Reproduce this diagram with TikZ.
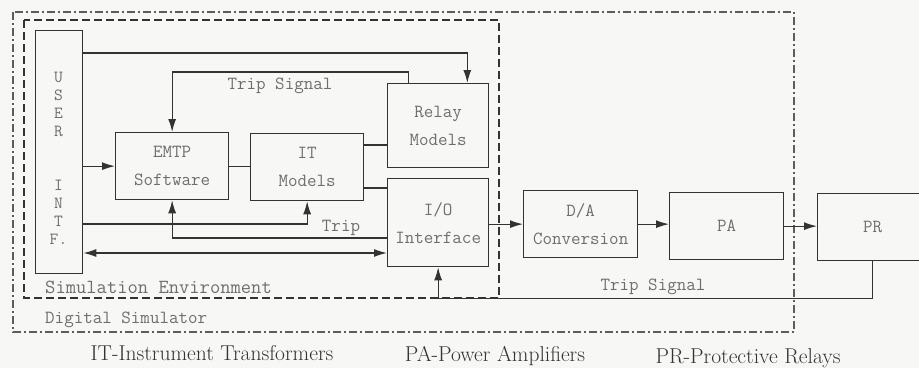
\documentclass[tikz,border=0pt]{standalone}
\usetikzlibrary{arrows.meta,calc}
\definecolor{ln}{HTML}{333333}
\definecolor{tx}{HTML}{6E6E6E}
\definecolor{bg}{HTML}{F7F7F5}
\tikzset{
  box/.style={draw=ln, line width=1.3pt, anchor=north west, inner sep=0pt, align=center,
    text=tx, font=\ttfamily\fontsize{18.5}{28}\selectfont},
  wire/.style={draw=ln, line width=1.3pt},
  tipshape/.style={},
  arr/.style={wire, -{Latex[length=13pt,width=8pt]}},
  arrb/.style={wire, {Latex[length=13pt,width=8pt]}-{Latex[length=13pt,width=8pt]}},
  lbl/.style={text=tx, inner sep=0pt, font=\ttfamily\fontsize{18.5}{20}\selectfont},
  captxt/.style={text=black!80, inner sep=0pt, font=\fontsize{21.5}{24}\selectfont},
  envframe/.style={draw=ln, line width=1.2pt, dash pattern=on 8pt off 4pt},
  simframe/.style={draw=ln!80, line width=1.1pt, dash pattern=on 8pt off 3pt on 2pt off 3pt},
}
\begin{document}
\begin{tikzpicture}[x=1pt,y=-1pt]
\useasboundingbox (0,0) rectangle (919,368);
\fill[bg] (0,0) rectangle (919,368);

% frames
\draw[simframe] (13,12) rectangle (794,332);
\draw[envframe] (24,20) rectangle (499,298);
\node[lbl, anchor=west, font=\ttfamily\fontsize{20}{22}\selectfont] (envlbl) at (45,287) {Simulation Environment};
\node[lbl, anchor=west] (simlbl) at (45,320) {Digital Simulator};

% boxes
\node[box, minimum width=47pt, minimum height=243pt] (user) at (35,30) {};
\node[lbl, align=center, font=\ttfamily\fontsize{17}{18}\selectfont] (usertxt) at (58.5,158.5)
  {U\\S\\E\\R\\[36pt]I\\N\\T\\F.};
\node[box, minimum width=113pt, minimum height=67pt] (emtp) at (115,132) {EMTP\\Software};
\node[box, minimum width=113pt, minimum height=67pt] (itm) at (250,133) {IT\\Models};
\node[box, minimum width=101pt, minimum height=84pt] (relay) at (387,83) {Relay\\Models};
\node[box, minimum width=101pt, minimum height=88pt] (io) at (387,178) {I/O\\Interface};
\node[box, minimum width=114pt, minimum height=67pt] (da) at (523,190) {D/A\\Conversion};
\node[box, minimum width=114pt, minimum height=67pt] (pa) at (669,192) {PA};
\node[box, minimum width=110pt, minimum height=67pt] (pr) at (817,193) {PR};

% connectors
\draw[arr] (user.east |- 0,53) -| ([xshift=-22pt]relay.north east);
\draw[arr] ([xshift=-29.5pt]relay.north) -- ++(0,-11) -| (emtp.north);
\node[lbl] (triptop) at (280,86) {Trip Signal};
\draw[arr] (user.east |- emtp.west) -- (emtp.west);
\draw[wire] (emtp.east) -- (emtp.east -| itm.west);
\draw[wire] (itm.east |- 0,145) -- (relay.west |- 0,145);
\draw[wire] (itm.east |- 0,188) -- (io.west |- 0,188);
\draw[arr] (user.east |- 0,224) -| (itm.south);
\draw[arr] (io.west |- 0,238) -| (emtp.south);
\node[lbl] (trip) at (341,228) {Trip};
\draw[arrb] (user.east |- 0,253) -- (io.west |- 0,253);
\draw[arr] (io.east |- da.west) -- (da.west);
\draw[arr] (da.east) -- (da.east -| pa.west);
\draw[arr] (pa.east) -- (pa.east -| pr.west);
\draw[arr] (pr.south) -- ++(0,37) -| (io.south);
\node[lbl] (tripbot) at (653,287) {Trip Signal};

% captions
\node[captxt] (c1) at (212,353) {IT-Instrument Transformers};
\node[captxt] (c2) at (495,356) {PA-Power Amplifiers};
\node[captxt] (c3) at (748,358) {PR-Protective Relays};
\end{tikzpicture}
\end{document}
